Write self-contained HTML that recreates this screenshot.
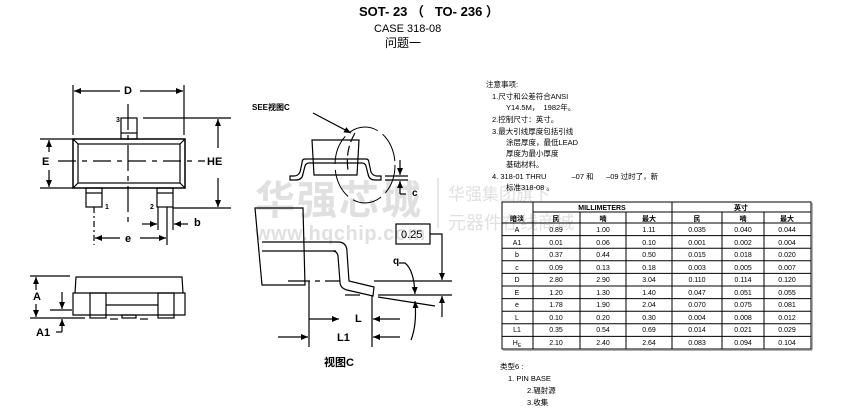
<!DOCTYPE html>
<html><head><meta charset="utf-8"><style>
html,body{margin:0;padding:0;background:#fff}
svg{display:block}
text{font-family:"Liberation Sans","Noto Sans CJK SC",sans-serif}
</style></head><body>
<svg width="852" height="414" viewBox="0 0 852 414" xmlns="http://www.w3.org/2000/svg">
<defs>
<marker id="ar" markerWidth="8" markerHeight="8" refX="7" refY="4" orient="auto" markerUnits="userSpaceOnUse"><path d="M0,1 L7,4 L0,7 z" fill="#000"/></marker>
</defs>
<!-- watermark -->
<g fill="#e0e0e0">
<text x="255" y="214" font-size="40" font-weight="bold" letter-spacing="2">华强芯城</text>
<text x="255" y="240" font-size="20" font-weight="bold" letter-spacing="0.5">www.hqchip.com</text>
<text x="448" y="200" font-size="17">华强集团旗下</text>
<text x="448" y="229" font-size="18">元器件在线商城</text>
</g>
<line x1="438" y1="178" x2="438" y2="228" stroke="#ddd" stroke-width="1.5"/>

<!-- titles -->
<text x="359" y="16" font-size="13" font-weight="bold">SOT- 23 （&#160;&#160;&#160;TO- 236 ）</text>
<text x="374" y="32" font-size="11">CASE 318-08</text>
<text x="385" y="47" font-size="12">问题一</text>

<g stroke="#000" fill="none" stroke-width="1.2">
<!-- top view -->
<rect x="73" y="139" width="112" height="49" stroke-width="1.5"/>
<rect x="78" y="144" width="102" height="39"/>
<line x1="73" y1="139" x2="78" y2="144"/><line x1="185" y1="139" x2="180" y2="144"/>
<line x1="73" y1="188" x2="78" y2="183"/><line x1="185" y1="188" x2="180" y2="183"/>
<rect x="121" y="118" width="16" height="21"/><line x1="121" y1="133" x2="137" y2="133"/>
<rect x="86" y="188" width="16" height="19"/><line x1="86" y1="193" x2="102" y2="193"/>
<rect x="157" y="188" width="16" height="19"/><line x1="157" y1="193" x2="173" y2="193"/>
<line x1="73" y1="85" x2="73" y2="135"/><line x1="184" y1="85" x2="184" y2="135"/>
<line x1="120" y1="91" x2="74" y2="91" marker-end="url(#ar)"/><line x1="140" y1="91" x2="183" y2="91" marker-end="url(#ar)"/>
<line x1="143" y1="118" x2="231" y2="118"/><line x1="173" y1="208" x2="231" y2="208"/>
<line x1="218" y1="148" x2="218" y2="119" marker-end="url(#ar)"/><line x1="218" y1="178" x2="218" y2="207" marker-end="url(#ar)"/>
<line x1="40" y1="139" x2="73" y2="139"/><line x1="40" y1="188" x2="73" y2="188"/>
<line x1="49" y1="152" x2="49" y2="140" marker-end="url(#ar)"/><line x1="49" y1="170" x2="49" y2="187" marker-end="url(#ar)"/>
<line x1="58" y1="161" x2="205" y2="161" stroke-dasharray="18,6,5,6"/>
<line x1="128" y1="104" x2="128" y2="225" stroke-dasharray="26,5,5,5"/>
<line x1="94" y1="207" x2="94" y2="245" stroke-dasharray="6,3,2,3"/>
<line x1="167" y1="207" x2="167" y2="245"/><line x1="173" y1="207" x2="173" y2="230"/><line x1="158" y1="207" x2="158" y2="230"/>
<line x1="120" y1="238" x2="95" y2="238" marker-end="url(#ar)"/><line x1="140" y1="238" x2="166" y2="238" marker-end="url(#ar)"/>
<line x1="142" y1="224" x2="157" y2="224" marker-end="url(#ar)"/><line x1="188" y1="224" x2="174" y2="224" marker-end="url(#ar)"/>

<!-- bottom view -->
<path d="M75,293 L76,277 L182,277 L183,293"/>
<path d="M73,293 L185,293 L185,315 L73,315 z"/>
<rect x="90" y="293" width="16" height="25"/><rect x="158" y="293" width="16" height="25"/>
<line x1="106" y1="305" x2="158" y2="305"/>
<rect x="122" y="315" width="14" height="3"/>
<line x1="110" y1="319" x2="118" y2="319"/><line x1="140" y1="319" x2="148" y2="319"/>
<line x1="30" y1="276" x2="70" y2="276"/><line x1="30" y1="318" x2="85" y2="318"/><line x1="50" y1="310" x2="72" y2="310"/>
<line x1="36" y1="290" x2="36" y2="277" marker-end="url(#ar)"/><line x1="36" y1="304" x2="36" y2="317" marker-end="url(#ar)"/>
<line x1="62" y1="292" x2="62" y2="309" marker-end="url(#ar)"/><line x1="62" y1="332" x2="62" y2="319" marker-end="url(#ar)"/>
<line x1="62" y1="332" x2="56" y2="332"/>

<!-- side view top -->
<line x1="313" y1="113" x2="351" y2="133" marker-end="url(#ar)"/>
<path d="M312,140 L359,140 L357,175 L314,175 z"/>
<line x1="312" y1="159" x2="359" y2="159"/><line x1="312" y1="163" x2="359" y2="163"/>
<path d="M312,159 L305,159 Q302,159 302,163 L300,172 Q298,176 294,176 L290,176 L290,180 L296,180 Q302,180 303,174 L305,166 Q306,163 309,163 L312,163"/>
<path d="M359,159 L366,159 Q369,159 369,163 L371,172 Q373,176 377,176 L381,176 L381,180 L375,180 Q369,180 368,174 L366,166 Q365,163 362,163 L359,163"/>
<path d="M355,133 Q345,150 348,170" stroke-dasharray="10,4"/>
<ellipse cx="365" cy="165" rx="30" ry="38" stroke-dasharray="30,6" stroke-width="1"/>
<line x1="385" y1="176" x2="408" y2="176"/><line x1="385" y1="180" x2="408" y2="180"/>
<line x1="400" y1="160" x2="400" y2="175" marker-end="url(#ar)"/><line x1="400" y1="194" x2="400" y2="181" marker-end="url(#ar)"/>
<line x1="400" y1="194" x2="406" y2="194"/>

<!-- view C -->
<path d="M255,208 L303,208 L305,285 L262,285 z"/>
<line x1="262" y1="242" x2="338" y2="242"/><line x1="262" y1="251" x2="336" y2="251"/>
<path d="M338,242 Q347,242 347,252 L349,281 L374,287 L373,296 L347,290 Q340,288 340,282 L338,256 Q337,251 333,251"/>
<line x1="288" y1="281" x2="340" y2="281" stroke-dasharray="22,5,5,5"/>
<line x1="374" y1="281" x2="452" y2="281"/>
<line x1="345" y1="295" x2="360" y2="295"/><line x1="378" y1="295" x2="452" y2="295"/>
<line x1="378" y1="297" x2="435" y2="306"/>
<rect x="396" y="224" width="34" height="20"/>
<path d="M430,234 L442,234 L442,280" marker-end="url(#ar)"/>
<line x1="442" y1="317" x2="442" y2="296" marker-end="url(#ar)"/>
<path d="M399,263 L405,263 Q414,270 415,294" marker-end="url(#ar)"/>
<path d="M411,340 Q417,325 415,301" marker-end="url(#ar)"/>
<line x1="309" y1="281" x2="309" y2="347"/><line x1="372" y1="296" x2="372" y2="347"/>
<line x1="309" y1="319" x2="339" y2="319" marker-end="url(#ar)"/>
<line x1="400" y1="319" x2="373" y2="319" marker-end="url(#ar)"/>
<line x1="278" y1="337" x2="308" y2="337" marker-end="url(#ar)"/>
<line x1="400" y1="337" x2="373" y2="337" marker-end="url(#ar)"/>
</g>
<!-- labels -->
<g font-size="11" font-weight="bold" fill="#000">
<text x="124" y="94">D</text>
<text x="42" y="165">E</text>
<text x="207" y="165">HE</text>
<text x="125" y="242">e</text>
<text x="194" y="226">b</text>
<text x="33" y="300">A</text>
<text x="36" y="336">A1</text>
<text x="412" y="196" font-size="10">c</text>
<text x="393" y="264" font-size="10">q</text>
<text x="355" y="322">L</text>
<text x="337" y="341">L1</text>
<text x="324" y="366" font-size="11">视图C</text>
<text x="252" y="110" font-size="8">SEE视图C</text>
</g>
<g font-size="7" font-weight="bold"><text x="116" y="122">3</text><text x="105" y="209">1</text><text x="150" y="209">2</text></g>
<text x="401" y="238" font-size="11">0.25</text>

<!-- notes -->
<g font-size="7.5" fill="#000">
<text x="486" y="87">注意事项:</text>
<text x="492" y="99">1.尺寸和公差符合ANSI</text>
<text x="506" y="110">Y14.5M，&#160;&#160;1982年。</text>
<text x="492" y="122">2.控制尺寸：英寸。</text>
<text x="492" y="134">3.最大引线厚度包括引线</text>
<text x="506" y="145">涂层厚度，最低LEAD</text>
<text x="506" y="156">厚度为最小厚度</text>
<text x="506" y="167">基础材料。</text>
<text x="492" y="179">4. 318-01 THRU&#160;&#160;&#160;&#160;&#160;&#160;&#160;&#160;&#160;&#160;&#160;&#160;–07 和&#160;&#160;&#160;&#160;&#160;&#160;–09 过时了，新</text>
<text x="506" y="190">标准318-08 。</text>
<text x="500" y="369">类型6 :</text>
<text x="508" y="381">1. PIN BASE</text>
<text x="527" y="393">2.辐射源</text>
<text x="527" y="405">3.收集</text>
</g>

<!-- table -->
<g stroke="#000" stroke-width="1" fill="none">
<rect x="502" y="202" width="309" height="147"/>
<line x1="812" y1="203" x2="812" y2="350" stroke="#999" stroke-width="1.5"/>
<line x1="503" y1="350" x2="812" y2="350" stroke="#999" stroke-width="1.5"/>
<line x1="533" y1="212" x2="811" y2="212"/>
<line x1="502" y1="223" x2="811" y2="223"/>
<line x1="533" y1="202" x2="533" y2="349"/><line x1="672" y1="202" x2="672" y2="349"/>
<line x1="580" y1="212" x2="580" y2="349"/><line x1="626" y1="212" x2="626" y2="349"/>
<line x1="722" y1="212" x2="722" y2="349"/><line x1="764" y1="212" x2="764" y2="349"/>
<line x1="502" y1="235.6" x2="811" y2="235.6"/><line x1="502" y1="248.2" x2="811" y2="248.2"/>
<line x1="502" y1="260.8" x2="811" y2="260.8"/><line x1="502" y1="273.4" x2="811" y2="273.4"/>
<line x1="502" y1="286" x2="811" y2="286"/><line x1="502" y1="298.6" x2="811" y2="298.6"/>
<line x1="502" y1="311.2" x2="811" y2="311.2"/><line x1="502" y1="323.8" x2="811" y2="323.8"/>
<line x1="502" y1="336.4" x2="811" y2="336.4"/>
</g>
<g font-size="7" fill="#000" text-anchor="middle">
<text x="602" y="210" font-weight="bold">MILLIMETERS</text>
<text x="741" y="210" font-weight="bold">英寸</text>
<g font-weight="bold"><text x="517" y="221">暗淡</text><text x="556" y="221">民</text><text x="603" y="221">喃</text><text x="649" y="221">最大</text><text x="697" y="221">民</text><text x="743" y="221">喃</text><text x="787" y="221">最大</text></g>
<text x="517" y="232">A</text><text x="556" y="232">0.89</text><text x="603" y="232">1.00</text><text x="649" y="232">1.11</text><text x="697" y="232">0.035</text><text x="743" y="232">0.040</text><text x="787" y="232">0.044</text>
<text x="517" y="245">A1</text><text x="556" y="245">0.01</text><text x="603" y="245">0.06</text><text x="649" y="245">0.10</text><text x="697" y="245">0.001</text><text x="743" y="245">0.002</text><text x="787" y="245">0.004</text>
<text x="517" y="257">b</text><text x="556" y="257">0.37</text><text x="603" y="257">0.44</text><text x="649" y="257">0.50</text><text x="697" y="257">0.015</text><text x="743" y="257">0.018</text><text x="787" y="257">0.020</text>
<text x="517" y="270">c</text><text x="556" y="270">0.09</text><text x="603" y="270">0.13</text><text x="649" y="270">0.18</text><text x="697" y="270">0.003</text><text x="743" y="270">0.005</text><text x="787" y="270">0.007</text>
<text x="517" y="282">D</text><text x="556" y="282">2.80</text><text x="603" y="282">2.90</text><text x="649" y="282">3.04</text><text x="697" y="282">0.110</text><text x="743" y="282">0.114</text><text x="787" y="282">0.120</text>
<text x="517" y="295">E</text><text x="556" y="295">1.20</text><text x="603" y="295">1.30</text><text x="649" y="295">1.40</text><text x="697" y="295">0.047</text><text x="743" y="295">0.051</text><text x="787" y="295">0.055</text>
<text x="517" y="307">e</text><text x="556" y="307">1.78</text><text x="603" y="307">1.90</text><text x="649" y="307">2.04</text><text x="697" y="307">0.070</text><text x="743" y="307">0.075</text><text x="787" y="307">0.081</text>
<text x="517" y="320">L</text><text x="556" y="320">0.10</text><text x="603" y="320">0.20</text><text x="649" y="320">0.30</text><text x="697" y="320">0.004</text><text x="743" y="320">0.008</text><text x="787" y="320">0.012</text>
<text x="517" y="332">L1</text><text x="556" y="332">0.35</text><text x="603" y="332">0.54</text><text x="649" y="332">0.69</text><text x="697" y="332">0.014</text><text x="743" y="332">0.021</text><text x="787" y="332">0.029</text>
<text x="517" y="345">H<tspan font-size="5" dy="2">E</tspan></text><text x="556" y="345">2.10</text><text x="603" y="345">2.40</text><text x="649" y="345">2.64</text><text x="697" y="345">0.083</text><text x="743" y="345">0.094</text><text x="787" y="345">0.104</text>
</g>
</svg>
</body></html>
